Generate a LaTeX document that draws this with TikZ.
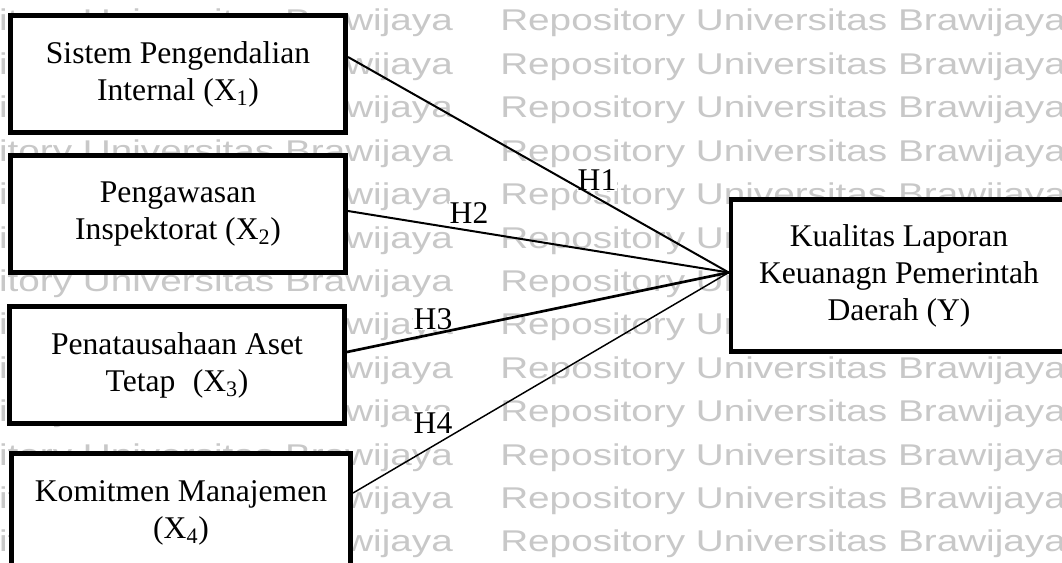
\documentclass[tikz,border=0pt]{standalone}
\usepackage{fontspec}
\usepackage{graphicx}
\setmainfont{Liberation Serif}
\newfontfamily\wmfont{Liberation Sans}
\definecolor{wmgray}{RGB}{200,200,200}
\newcommand{\boxfont}{\fontsize{23.7}{27.75}\selectfont}
\begin{document}
\begin{tikzpicture}[x=0.75pt, y=-0.75pt,
  varbox/.style={draw, line width=3.75pt, fill=white, align=center,
    inner sep=0pt, font=\boxfont,
    minimum width=251.25pt, minimum height=87.75pt},
  depbox/.style={draw, line width=3.4pt, fill=white, align=center,
    inner sep=0pt, font=\boxfont,
    minimum width=252pt, minimum height=114pt},
  hlabel/.style={fill=white, inner sep=0.8pt, font=\boxfont, anchor=base},
  wmtext/.style={anchor=base west, inner sep=0pt, text=wmgray,
    font=\wmfont\fontsize{22.5}{22.5}\selectfont}
]
\useasboundingbox (0,0) rectangle (1062,563);
\fill[white] (0,0) rectangle (1062,563);
\clip (0,0) rectangle (1062,563);

% repository watermark in the background
\foreach \k in {0,...,12}{
  \foreach \xs in {-113,500}{
    \node[wmtext] at (\xs,{31+43.4*\k})
      {\scalebox{1.29}[1]{Repository Universitas Brawijaya}};
  }
}

% independent variables
\node[varbox] (x1) at (178,74)  {Sistem Pengendalian\\Internal (X\textsubscript{1})};
\node[varbox] (x2) at (178,214) {Pengawasan\\Inspektorat (X\textsubscript{2})};
\node[varbox] (x3) at (177,365) {Penatausahaan Aset\\Tetap\hspace{0.3em} (X\textsubscript{3})};
\node[varbox, minimum width=254.25pt, minimum height=90pt] (x4) at (181,513)
  {Komitmen Manajemen\\(X\textsubscript{4})};

% dependent variable
\node[depbox] (y) at (899,275.5)
  {Kualitas Laporan\\Keuanagn Pemerintah\\Daerah (Y)};

% hypothesis labels
\node[hlabel] (h1) at (597,190) {H1};
\node[hlabel] (h2) at (469,223) {H2};
\node[hlabel] (h3) at (433,329) {H3};
\node[hlabel] (h4) at (433,433) {H4};

% hypothesis paths
\coordinate (yin) at ([yshift=2.25pt]y.west);
\draw[line width=1.5pt] ([yshift=12.75pt]x1.east) -- (yin);
\draw[line width=1.5pt] ([yshift=2.25pt]x2.east) -- (yin);
\draw[line width=2pt]   ([yshift=9.75pt]x3.east) -- (yin);
\draw[line width=1.1pt] ([yshift=15pt]x4.east) -- (yin);
\end{tikzpicture}
\end{document}
